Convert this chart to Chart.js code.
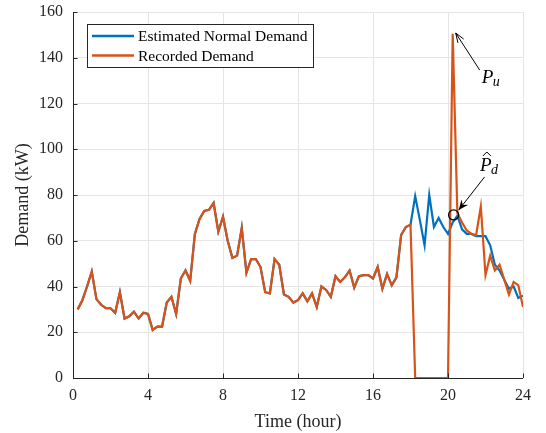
<!DOCTYPE html>
<html>
<head>
<meta charset="utf-8">
<script src="https://cdn.jsdelivr.net/npm/chart.js@4/dist/chart.umd.min.js"></script>
<style>
	html, body { margin: 0; padding: 0; background: #fff; }
	#wrap { width: 546px; height: 433px; }
</style>
</head>
<body>
<div id="wrap"><canvas id="myChart" width="546" height="433"></canvas></div>
<script>
// time of day in hours, 15 minute steps
var times = [];
for (var i = 1; i <= 96; i++) { times.push(i * 0.25); }

// recorded demand (kW)
var recorded = [
	30, 34, 40, 46.5, 34.5, 32, 30.5, 30.5, 28.5, 37.5, 26, 27,
	29, 26, 28.5, 28, 21, 22.5, 22.5, 33, 35.5, 28, 43.5, 47,
	42.5, 63, 69.5, 73, 73.5, 76.5, 64, 70.5, 60, 52.5, 53.5, 65.5,
	46, 52, 52, 48.5, 37.5, 37, 52, 49.5, 36.5, 35.5, 33, 34,
	37, 33.5, 37, 31, 40, 38.5, 35.5, 44.5, 42, 44, 47, 39.5,
	44.5, 45, 45, 43.5, 48.5, 39, 45.5, 40.5, 44, 62.5, 66, 67,
	0, 0, 0, 0, 0, 0, 0, 0, 150.5, 72, 68, 64.5,
	63, 62.5, 75, 45, 53.5, 47, 49.5, 43, 36.5, 42, 40.5, 31
];

// estimated normal demand (kW)
var estimated = [
	30, 34, 40, 46.5, 34.5, 32, 30.5, 30.5, 28.5, 37.5, 26, 27,
	29, 26, 28.5, 28, 21, 22.5, 22.5, 33, 35.5, 28, 43.5, 47,
	42.5, 63, 69.5, 73, 73.5, 76.5, 64, 70.5, 60, 52.5, 53.5, 65.5,
	46, 52, 52, 48.5, 37.5, 37, 52, 49.5, 36.5, 35.5, 33, 34,
	37, 33.5, 37, 31, 40, 38.5, 35.5, 44.5, 42, 44, 47, 39.5,
	44.5, 45, 45, 43.5, 48.5, 39, 45.5, 40.5, 44, 62.5, 66, 67,
	79.5, 69, 58, 80, 66, 70, 66, 63, 68, 71, 65, 63,
	63, 62, 62, 62, 58, 49.5, 47, 43, 39, 40, 35, 36
];

var seriesNames = ['Estimated Normal Demand', 'Recorded Demand'];
var xTicks = [0, 4, 8, 12, 16, 20, 24];
var yTicks = [0, 20, 40, 60, 80, 100, 120, 140, 160];

var BLUE = '#0072BD';
var ORANGE = '#D95319';
var FONT = '"Liberation Serif", "Times New Roman", serif';

function _toPoints(vals) {
	var arr = [];
	for (var i = 0; i < vals.length; i++) {
		arr.push({ x: times[i], y: vals[i] });
	}
	return arr;
}

// where the marks of the annotation sit, in data units
var _notes = {
	circle: { x: 20.3, y: 71.3 },
	puArrow: { x1: 21.69, y1: 134.6, x2: 20.41, y2: 150.8 },
	puText: { x: 21.8, y: 129 },
	pdArrow: { x1: 21.95, y1: 87.9, x2: 20.57, y2: 73.4 },
	pdText: { x: 21.7, y: 90.5 }
};

// inside ticks, legend box and the text notes
var extrasPlugin = {
	id: 'extras',
	afterDraw: function (chart) {
		var ctx = chart.ctx;
		var xs = chart.scales.x;
		var ys = chart.scales.y;
		var area = chart.chartArea;
		ctx.save();

		// axes lines
		ctx.strokeStyle = '#262626';
		ctx.lineWidth = 1;
		ctx.beginPath();
		ctx.moveTo(area.left + 0.5, area.top);
		ctx.lineTo(area.left + 0.5, area.bottom + 0.5);
		ctx.lineTo(area.right, area.bottom + 0.5);
		ctx.stroke();

		// ticks pointing inwards
		ctx.beginPath();
		xTicks.forEach(function (v) {
			var px = Math.round(xs.getPixelForValue(v)) + 0.5;
			ctx.moveTo(px, area.bottom);
			ctx.lineTo(px, area.bottom - 4.5);
		});
		yTicks.forEach(function (v) {
			var py = Math.round(ys.getPixelForValue(v)) + 0.5;
			ctx.moveTo(area.left, py);
			ctx.lineTo(area.left + 4.5, py);
		});
		ctx.stroke();

		// legend
		var lx = 87, ly = 24, lw = 226, lh = 43;
		ctx.fillStyle = '#fff';
		ctx.fillRect(lx, ly, lw, lh);
		ctx.strokeStyle = '#262626';
		ctx.lineWidth = 1;
		ctx.strokeRect(lx + 0.5, ly + 0.5, lw, lh);
		var colors = [BLUE, ORANGE];
		ctx.font = '15.5px ' + FONT;
		ctx.textBaseline = 'middle';
		ctx.textAlign = 'left';
		for (var i = 0; i < seriesNames.length; i++) {
			var ry = ly + 12 + i * 19.5;
			ctx.strokeStyle = colors[i];
			ctx.lineWidth = 2.5;
			ctx.beginPath();
			ctx.moveTo(lx + 5, ry);
			ctx.lineTo(lx + 47, ry);
			ctx.stroke();
			ctx.fillStyle = '#000';
			ctx.fillText(seriesNames[i], lx + 51, ry + 1);
		}

		// circle on the estimated value
		ctx.strokeStyle = '#000';
		ctx.lineWidth = 1.3;
		ctx.beginPath();
		ctx.arc(xs.getPixelForValue(_notes.circle.x), ys.getPixelForValue(_notes.circle.y), 5, 0, Math.PI * 2);
		ctx.stroke();

		// arrows
		_drawArrow(ctx, xs, ys, _notes.puArrow, false);
		_drawArrow(ctx, xs, ys, _notes.pdArrow, true);

		// texts
		ctx.fillStyle = '#000';
		ctx.textBaseline = 'alphabetic';
		var tx = xs.getPixelForValue(_notes.puText.x);
		var ty = ys.getPixelForValue(_notes.puText.y);
		ctx.font = 'italic 19px ' + FONT;
		ctx.fillText('P', tx, ty);
		ctx.font = 'italic 14px ' + FONT;
		ctx.fillText('u', tx + 11, ty + 3);

		tx = xs.getPixelForValue(_notes.pdText.x);
		ty = ys.getPixelForValue(_notes.pdText.y);
		ctx.font = 'italic 19px ' + FONT;
		ctx.fillText('P', tx, ty);
		ctx.font = 'italic 14px ' + FONT;
		ctx.fillText('d', tx + 11, ty + 3);
		// hat
		ctx.lineWidth = 1;
		ctx.beginPath();
		ctx.moveTo(tx + 3, ty - 15);
		ctx.lineTo(tx + 7, ty - 19);
		ctx.lineTo(tx + 11, ty - 15);
		ctx.stroke();

		ctx.restore();
	}
};

function _drawArrow(ctx, xs, ys, a, filled) {
	var x1 = xs.getPixelForValue(a.x1), y1 = ys.getPixelForValue(a.y1);
	var x2 = xs.getPixelForValue(a.x2), y2 = ys.getPixelForValue(a.y2);
	var ang = Math.atan2(y2 - y1, x2 - x1);
	var len = filled ? 11 : 10;
	var spread = filled ? 0.4 : 0.35;
	ctx.strokeStyle = '#000';
	ctx.fillStyle = '#000';
	ctx.lineWidth = 1;
	ctx.beginPath();
	ctx.moveTo(x1, y1);
	ctx.lineTo(x2, y2);
	ctx.stroke();
	var ax = x2 - len * Math.cos(ang - spread), ay = y2 - len * Math.sin(ang - spread);
	var bx = x2 - len * Math.cos(ang + spread), by = y2 - len * Math.sin(ang + spread);
	if (filled) {
		var mx = x2 - len * 0.6 * Math.cos(ang), my = y2 - len * 0.6 * Math.sin(ang);
		ctx.beginPath();
		ctx.moveTo(x2, y2);
		ctx.lineTo(ax, ay);
		ctx.lineTo(mx, my);
		ctx.lineTo(bx, by);
		ctx.closePath();
		ctx.fill();
	} else {
		ctx.beginPath();
		ctx.moveTo(ax, ay);
		ctx.lineTo(x2, y2);
		ctx.lineTo(bx, by);
		ctx.stroke();
	}
}

var _config = {
	type: 'line',
	data: {
		datasets: [
			{
				label: seriesNames[0],
				data: _toPoints(estimated),
				borderColor: BLUE,
				borderWidth: 2.2,
				pointRadius: 0,
				tension: 0,
				fill: false,
				order: 2
			},
			{
				label: seriesNames[1],
				data: _toPoints(recorded),
				borderColor: ORANGE,
				borderWidth: 2.2,
				pointRadius: 0,
				tension: 0,
				fill: false,
				order: 1
			}
		]
	},
	options: {
		responsive: false,
		animation: false,
		layout: { padding: { top: 12, right: 23, left: 0, bottom: 0 } },
		plugins: {
			legend: { display: false },
			tooltip: { enabled: false }
		},
		scales: {
			x: {
				type: 'linear',
				min: 0,
				max: 24,
				border: { display: false },
				grid: { color: '#e5e5e5', drawTicks: false },
				ticks: {
					stepSize: 4,
					padding: 8,
					color: '#262626',
					font: { family: FONT, size: 16 }
				},
				title: {
					display: true,
					text: 'Time (hour)',
					color: '#262626',
					font: { family: FONT, size: 18 },
					padding: { top: 2, bottom: 0 }
				},
				afterFit: function (scale) { scale.height = 55; }
			},
			y: {
				min: 0,
				max: 160,
				border: { display: false },
				grid: { color: '#e5e5e5', drawTicks: false },
				ticks: {
					stepSize: 20,
					padding: 10,
					color: '#262626',
					font: { family: FONT, size: 16 }
				},
				title: {
					display: true,
					text: 'Demand (kW)',
					color: '#262626',
					font: { family: FONT, size: 18 },
					padding: { top: 12, bottom: 0 }
				},
				afterFit: function (scale) {
					scale.width = 73;
					scale.paddingTop = 0;
					scale.paddingBottom = 0;
				}
			}
		}
	},
	plugins: [extrasPlugin]
};

var myChart = new Chart(document.getElementById('myChart'), _config);
</script>
</body>
</html>
